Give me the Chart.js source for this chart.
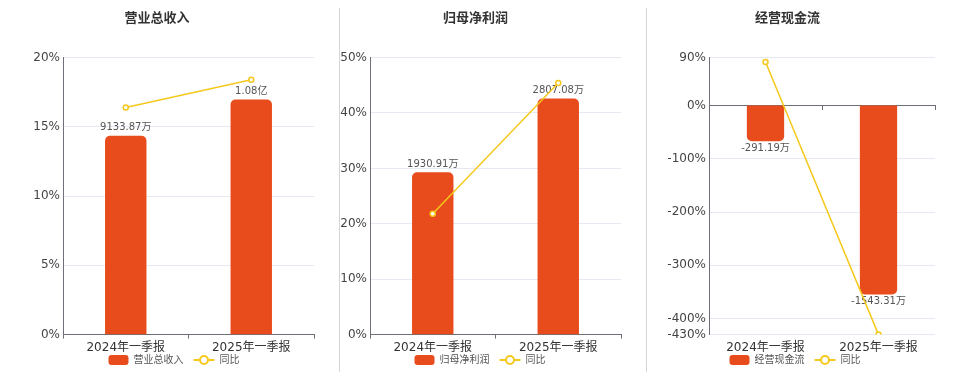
<!DOCTYPE html>
<html>
<head>
<meta charset="utf-8">
<script src="https://cdn.jsdelivr.net/npm/chart.js@4"></script>
<style>
  body { margin: 0; background: #fff; width: 960px; height: 372px; position: relative; overflow: hidden; }
  .box { position: absolute; top: 0; }
  .sep { position: absolute; top: 8px; width: 1px; height: 364px; background: #d6d6d6; }
</style>
</head>
<body>
<div class="box" style="left:0"><canvas id="c1" width="348" height="372"></canvas></div>
<div class="box" style="left:330px"><canvas id="c2" width="300" height="372"></canvas></div>
<div class="box" style="left:640px"><canvas id="c3" width="310" height="372"></canvas></div>
<div class="sep" style="left:339px"></div>
<div class="sep" style="left:646px"></div>
<script>
// 报告期
const periods = ['2024年一季报', '2025年一季报'];

// 营业总收入（万元）及同比
const revenue = [9133.87, 10800];
const revenueText = ['9133.87万', '1.08亿'];
const revenueYoy = [16.4, 18.4];
const revenueTicks = [0, 5, 10, 15, 20];

// 归母净利润（万元）及同比
const profit = [1930.91, 2807.08];
const profitText = ['1930.91万', '2807.08万'];
const profitYoy = [21.8, 45.4];
const profitTicks = [0, 10, 20, 30, 40, 50];

// 经营现金流（万元）及同比
const cashflow = [-291.19, -1543.31];
const cashflowText = ['-291.19万', '-1543.31万'];
const cashflowYoy = [81.9, -430];
const cashflowTicks = [90, 0, -100, -200, -300, -400, -430];

const FONT = "'DejaVu Sans', 'Noto Sans CJK SC', sans-serif";
const BAR = '#e84c1d';
const LINE = '#f5c81c';
const GRID = '#e6e9f2';
const AXIS = '#6e7079';

// 柱子上的数值标签（画在折线之前）
const barLabels = {
  id: 'barLabels',
  afterDatasetDraw(chart, args, opts) {
    if (args.index !== 0) return;
    const ctx = chart.ctx;
    ctx.save();
    ctx.font = '10px ' + FONT;
    ctx.fillStyle = '#555';
    ctx.textAlign = 'center';
    args.meta.data.forEach((el, i) => {
      const v = chart.data.datasets[0].data[i];
      if (v >= 0) {
        ctx.textBaseline = 'bottom';
        ctx.fillText(opts.texts[i], el.x, el.y - 3);
      } else {
        ctx.textBaseline = 'top';
        ctx.fillText(opts.texts[i], el.x, el.y + 2);
      }
    });
    ctx.restore();
  }
};

// 底部图例：柱子色块 + 带圆点的折线
const miniLegend = {
  id: 'miniLegend',
  afterDraw(chart, args, opts) {
    const ctx = chart.ctx;
    const [bar, line] = chart.data.datasets;
    ctx.save();
    ctx.font = '10px ' + FONT;
    const w1 = ctx.measureText(bar.label).width;
    const w2 = ctx.measureText(line.label).width;
    const total = 20 + 5 + w1 + 10 + 21 + 5 + w2;
    let x = chart.width / 2 - total / 2;
    const y = opts.y;
    ctx.fillStyle = bar.backgroundColor;
    ctx.beginPath();
    ctx.roundRect(x, y - 5, 20, 10, 3);
    ctx.fill();
    x += 25;
    ctx.fillStyle = '#555';
    ctx.textBaseline = 'middle';
    ctx.fillText(bar.label, x, y);
    x += w1 + 10;
    ctx.strokeStyle = line.borderColor;
    ctx.lineWidth = 2;
    ctx.beginPath(); ctx.moveTo(x, y); ctx.lineTo(x + 21, y); ctx.stroke();
    ctx.fillStyle = '#fff';
    ctx.beginPath(); ctx.arc(x + 10.5, y, 4, 0, Math.PI * 2); ctx.fill(); ctx.stroke();
    x += 26;
    ctx.fillStyle = '#555';
    ctx.fillText(line.label, x, y);
    ctx.restore();
  }
};

function makeChart(id, o) {
  const scales = {
    x: {
      type: 'category',
      offset: true,
      border: { display: !o.zeroAxis, color: AXIS },
      grid: { offset: true, drawOnChartArea: false, tickLength: 4, color: AXIS, tickColor: o.zeroAxis ? 'transparent' : AXIS },
      ticks: { color: '#333', font: { size: 12, family: FONT }, padding: 2, maxRotation: 0 }
    },
    y: {
      position: 'left',
      min: Math.min(...o.ticks),
      max: Math.max(...o.ticks),
      border: { color: AXIS },
      grid: { color: GRID, drawTicks: false },
      ticks: { color: '#444', font: { size: 12, family: FONT }, padding: 3, autoSkip: false, callback: v => v + '%' },
      afterBuildTicks(s) { s.ticks = o.ticks.map(v => ({ value: v })); },
      afterFit(s) { s.width = o.axisW; }
    },
    yb: { display: false, min: o.barMin, max: o.barMax }
  };
  if (o.zeroAxis) {
    scales.x0 = {
      type: 'category',
      position: { y: 0 },
      offset: true,
      border: { color: AXIS },
      grid: { offset: true, drawOnChartArea: false, tickLength: 4, color: AXIS },
      ticks: { display: false }
    };
  }
  return new Chart(document.getElementById(id), {
    type: 'bar',
    data: {
      labels: periods,
      datasets: [
        {
          type: 'bar',
          label: o.name,
          data: o.bars,
          yAxisID: 'yb',
          backgroundColor: BAR,
          borderRadius: 5,
          barPercentage: 0.33,
          categoryPercentage: 1,
          order: 2
        },
        {
          type: 'line',
          label: '同比',
          data: o.yoy,
          yAxisID: 'y',
          borderColor: LINE,
          borderWidth: 1.5,
          pointRadius: 2.5,
          pointBorderWidth: 1.5,
          pointBackgroundColor: '#fff',
          pointBorderColor: LINE,
          order: 1
        }
      ]
    },
    options: {
      responsive: false,
      animation: false,
      layout: { padding: { left: 0, right: o.padRight, bottom: 15 } },
      scales: scales,
      plugins: {
        title: {
          display: true,
          text: o.name,
          color: '#333',
          font: { size: 13, weight: 'bold', family: FONT },
          padding: { top: 11, bottom: 31 }
        },
        legend: { display: false },
        tooltip: { enabled: false },
        barLabels: { texts: o.texts },
        miniLegend: { y: 360 }
      }
    },
    plugins: [barLabels, miniLegend]
  });
}

makeChart('c1', { name: '营业总收入', bars: revenue, texts: revenueText, yoy: revenueYoy, ticks: revenueTicks, barMin: 0, barMax: 12720, axisW: 63, padRight: 34 });
makeChart('c2', { name: '归母净利润', bars: profit, texts: profitText, yoy: profitYoy, ticks: profitTicks, barMin: 0, barMax: 3295, axisW: 40, padRight: 9 });
makeChart('c3', { name: '经营现金流', bars: cashflow, texts: cashflowText, yoy: cashflowYoy, ticks: cashflowTicks, barMin: -1870, barMax: 391.4, axisW: 69, padRight: 15, zeroAxis: true });
</script>
</body>
</html>
